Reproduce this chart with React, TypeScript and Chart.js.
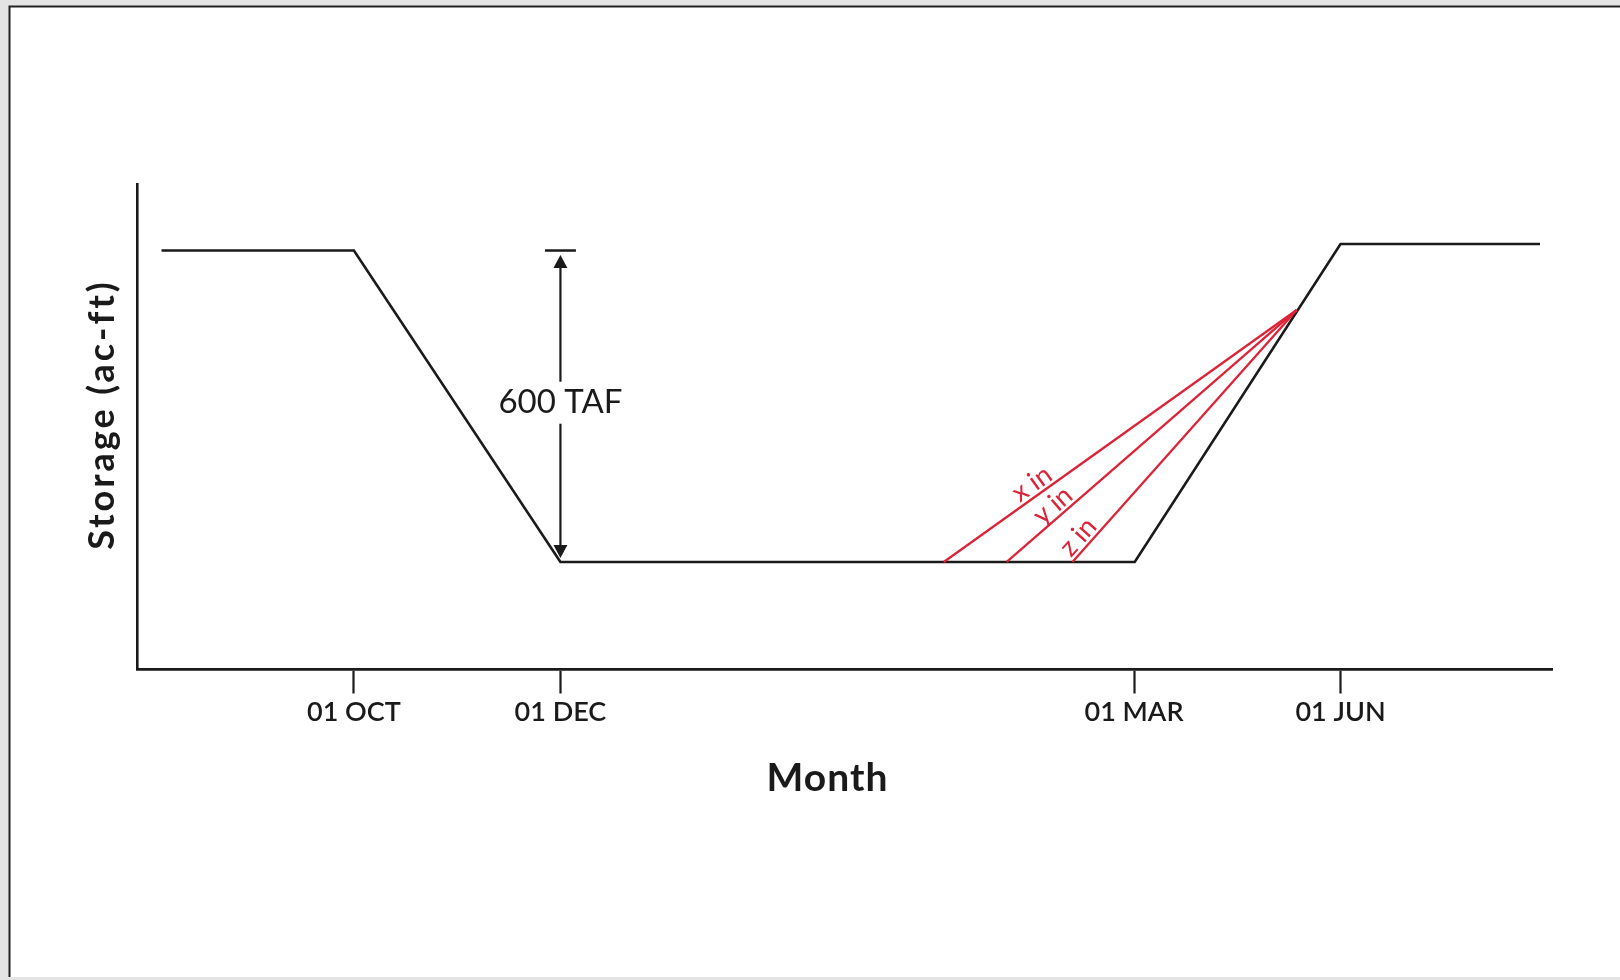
import React, { useEffect, useRef } from 'react';
import { Chart, registerables } from 'chart.js';

Chart.register(...registerables);

// ---- data (schematic units) ----
const X_RANGE = [0, 100];
const Y_RANGE = [0, 100];

const STORAGE_X = [1.7, 15.3, 29.9, 70.5, 85.05, 99.15];
const STORAGE_Y = [86.3, 86.3, 22.15, 22.15, 87.65, 87.65];

const TICK_VALUES = [15.3, 29.9, 70.45, 85.05];
const TICK_LABELS = ['01 OCT', '01 DEC', '01 MAR', '01 JUN'];

const RUNOFF_LABELS = ['x in', 'y in', 'z in'];
const RUNOFF_START_X = [57.0, 61.45, 66.1];
const RUNOFF_START_Y = [22.15, 22.15, 22.15];
const RUNOFF_END_X = [81.95, 81.95, 81.95];
const RUNOFF_END_Y = [74.05, 74.05, 74.05];
const RUNOFF_LABEL_T = [0.27, 0.187, 0.066];

const SPAN_X = 29.9;
const SPAN_FROM = 22.15;
const SPAN_TO = 86.3;
const SPAN_LABEL = '600 TAF';
const SPAN_LABEL_Y = 54.95;

const X_TITLE = 'Month';
const Y_TITLE = 'Storage (ac-ft)';

const BLACK = '#1a1a1a';
const RED = '#dc2338';
const FONT = 'Lato, "Open Sans", sans-serif';

const annotate = {
  id: 'annotate',
  beforeDraw(chart: any) {
    const ctx = chart.ctx;
    const w = chart.width;
    const h = chart.height;
    ctx.save();
    ctx.fillStyle = '#e4e4e4';
    ctx.fillRect(0, 0, w, h);
    ctx.fillStyle = '#ffffff';
    ctx.fillRect(9, 6, w - 9, h - 9);
    ctx.strokeStyle = '#222222';
    ctx.lineWidth = 2;
    ctx.beginPath();
    ctx.moveTo(9.5, h - 3);
    ctx.lineTo(9.5, 6.5);
    ctx.lineTo(w, 6.5);
    ctx.stroke();
    ctx.restore();
  },
  afterDatasetsDraw(chart: any) {
    const ctx = chart.ctx;
    const xs = chart.scales.x;
    const ys = chart.scales.y;
    ctx.save();

    // span arrow
    const px = xs.getPixelForValue(SPAN_X);
    const yb = ys.getPixelForValue(SPAN_FROM);
    const yt = ys.getPixelForValue(SPAN_TO);
    ctx.strokeStyle = BLACK;
    ctx.fillStyle = BLACK;
    ctx.lineWidth = 2.5;
    ctx.beginPath();
    ctx.moveTo(px - 15.5, yt);
    ctx.lineTo(px + 15.5, yt);
    ctx.stroke();
    const tipTop = yt + 4.5;
    const tipBot = yb - 4;
    const headL = 13;
    const headW = 7;
    ctx.lineWidth = 2.2;
    ctx.beginPath();
    ctx.moveTo(px, tipTop + headL - 1);
    ctx.lineTo(px, tipBot - headL + 1);
    ctx.stroke();
    ctx.beginPath();
    ctx.moveTo(px, tipTop);
    ctx.lineTo(px - headW, tipTop + headL);
    ctx.lineTo(px + headW, tipTop + headL);
    ctx.closePath();
    ctx.fill();
    ctx.beginPath();
    ctx.moveTo(px, tipBot);
    ctx.lineTo(px - headW, tipBot - headL);
    ctx.lineTo(px + headW, tipBot - headL);
    ctx.closePath();
    ctx.fill();

    const ty = ys.getPixelForValue(SPAN_LABEL_Y);
    ctx.font = `normal 33px ${FONT}`;
    const tw = ctx.measureText(SPAN_LABEL).width;
    ctx.fillStyle = '#ffffff';
    ctx.fillRect(px - tw / 2 - 4, ty - 21, tw + 8, 42);
    ctx.fillStyle = BLACK;
    ctx.textAlign = 'center';
    ctx.textBaseline = 'middle';
    ctx.fillText(SPAN_LABEL, px, ty);

    // runoff labels
    ctx.font = `normal 27px ${FONT}`;
    ctx.fillStyle = RED;
    for (let i = 0; i < RUNOFF_LABELS.length; i++) {
      const sx = xs.getPixelForValue(RUNOFF_START_X[i]);
      const sy = ys.getPixelForValue(RUNOFF_START_Y[i]);
      const ex = xs.getPixelForValue(RUNOFF_END_X[i]);
      const ey = ys.getPixelForValue(RUNOFF_END_Y[i]);
      const dx = ex - sx;
      const dy = ey - sy;
      const len = Math.hypot(dx, dy);
      const nx = dy / len;
      const ny = -dx / len;
      const t = RUNOFF_LABEL_T[i];
      const cx = sx + dx * t + nx * 12.5;
      const cy = sy + dy * t + ny * 12.5;
      ctx.save();
      ctx.translate(cx, cy);
      ctx.rotate(Math.atan2(dy, dx));
      ctx.textAlign = 'center';
      ctx.textBaseline = 'middle';
      ctx.fillText(RUNOFF_LABELS[i], 0, 0);
      ctx.restore();
    }

    // axis titles
    ctx.fillStyle = BLACK;
    ctx.textAlign = 'center';
    ctx.textBaseline = 'middle';
    ctx.save();
    ctx.translate(xs.left - 35.5, 416);
    ctx.rotate(-Math.PI / 2);
    ctx.font = `bold 36px ${FONT}`;
    (ctx as any).letterSpacing = '3px';
    ctx.fillText(Y_TITLE, 1.5, 0);
    ctx.restore();
    ctx.save();
    ctx.font = `bold 39px ${FONT}`;
    (ctx as any).letterSpacing = '1px';
    ctx.fillText(X_TITLE, 827.5, 778);
    ctx.restore();

    ctx.restore();
  },
};

export default function App() {
  const ref = useRef<HTMLCanvasElement | null>(null);

  useEffect(() => {
    if (!ref.current) return;
    const storage = STORAGE_X.map((x, i) => ({ x, y: STORAGE_Y[i] }));
    const runoff = RUNOFF_LABELS.map((label, i) => ({
      label,
      data: [
        { x: RUNOFF_START_X[i], y: RUNOFF_START_Y[i] },
        { x: RUNOFF_END_X[i], y: RUNOFF_END_Y[i] },
      ],
      borderColor: RED,
      borderWidth: 2.3,
      pointRadius: 0,
      tension: 0,
      fill: false,
      clip: false as any,
    }));
    const chart = new Chart(ref.current, {
      type: 'line',
      data: {
        datasets: [
          ...runoff,
          {
            label: 'Storage',
            data: storage,
            borderColor: BLACK,
            borderWidth: 2.6,
            pointRadius: 0,
            tension: 0,
            fill: false,
            clip: false as any,
          },
        ],
      },
      options: {
        responsive: false,
        animation: false,
        devicePixelRatio: 1,
        layout: { padding: { left: 137.5, top: 184, right: 68, bottom: 250.5 } },
        plugins: {
          legend: { display: false },
          tooltip: { enabled: false },
        },
        events: [],
        scales: {
          x: {
            type: 'linear',
            min: X_RANGE[0],
            max: X_RANGE[1],
            afterFit: (s: any) => {
              s.height = 60;
            },
            afterBuildTicks: (s: any) => {
              s.ticks = TICK_VALUES.map((v) => ({ value: v }));
            },
            ticks: {
              autoSkip: false,
              maxRotation: 0,
              padding: 3,
              color: BLACK,
              font: { family: FONT, size: 27, weight: '600' as any },
              callback: (_v: any, i: number) => TICK_LABELS[i],
            },
            grid: {
              display: true,
              drawOnChartArea: false,
              drawTicks: true,
              tickLength: 24,
              tickWidth: 2.2,
              tickColor: BLACK,
              color: BLACK,
            },
            border: { display: true, width: 2.8, color: BLACK },
          },
          y: {
            type: 'linear',
            min: Y_RANGE[0],
            max: Y_RANGE[1],
            afterFit: (s: any) => {
              s.width = 0;
            },
            ticks: { display: false },
            grid: { display: false },
            border: { display: true, width: 2.6, color: BLACK },
          },
        },
      },
      plugins: [annotate],
    });
    return () => chart.destroy();
  }, []);

  return (
    <div style={{ position: 'fixed', left: 0, top: 0, width: 1620, height: 980 }}>
      <canvas ref={ref} width={1620} height={980} style={{ width: 1620, height: 980, display: 'block' }} />
    </div>
  );
}
